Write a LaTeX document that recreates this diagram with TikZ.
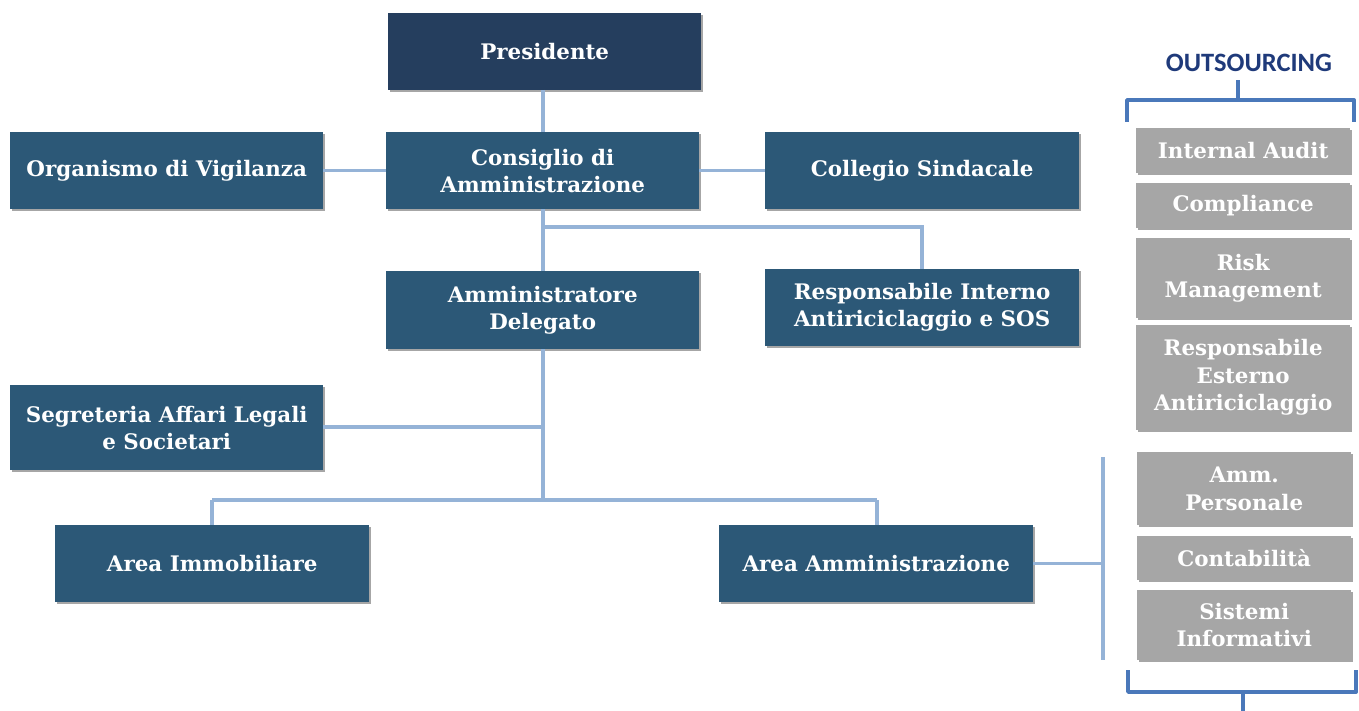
\documentclass[tikz,border=0pt]{standalone}
\usepackage{fontspec}
\setmainfont{DejaVu Serif}
\newfontfamily\outfont{Carlito}
\usetikzlibrary{shadows}
\definecolor{navy}{HTML}{253E5E}
\definecolor{boxblue}{HTML}{2C5877}
\definecolor{boxgray}{HTML}{A6A6A6}
\definecolor{linkblue}{HTML}{95B3D7}
\definecolor{outblue}{HTML}{1F3A7A}
\definecolor{braceblue}{HTML}{4A78BA}
\tikzset{
  x=1pt, y=-1pt,
  box/.style={draw=none, fill=boxblue, text=white, font=\bfseries\fontsize{21.4}{27}\selectfont,
    align=center, inner sep=0pt, anchor=north west,
    drop shadow={shadow xshift=1.5pt, shadow yshift=-2pt, opacity=0.35, fill=black}},
  gbox/.style={box, fill=boxgray, font=\bfseries\fontsize{21.4}{27.5}\selectfont},
  link/.style={draw=linkblue, line width=3.2pt},
  brace/.style={draw=braceblue, line width=3.8pt, line join=round}
}
\begin{document}
\begin{tikzpicture}
\useasboundingbox (0,0) rectangle (1359,711);
% main boxes
\node[box, fill=navy, minimum width=313pt, minimum height=77pt] (pres) at (388,13) {Presidente};
\node[box, minimum width=313pt, minimum height=77pt] (cda) at (386,132) {Consiglio di\\Amministrazione};
\node[box, minimum width=313pt, minimum height=77pt] (odv) at (10,132) {Organismo di Vigilanza};
\node[box, minimum width=314pt, minimum height=77pt] (coll) at (765,132) {Collegio Sindacale};
\node[box, minimum width=313pt, minimum height=78pt] (ad) at (386,271) {Amministratore\\Delegato};
\node[box, minimum width=314pt, minimum height=77pt] (rint) at (765,269) {Responsabile Interno\\Antiriciclaggio e SOS};
\node[box, minimum width=313pt, minimum height=85pt] (seg) at (10,385) {Segreteria Affari Legali\\e Societari};
\node[box, minimum width=314pt, minimum height=77pt] (imm) at (55,525) {Area Immobiliare};
\node[box, minimum width=314pt, minimum height=77pt] (amm) at (719,525) {Area Amministrazione};
% outsourcing boxes
\node[gbox, minimum width=214pt, minimum height=45pt] (ia) at (1136,128) {Internal Audit};
\node[gbox, minimum width=214pt, minimum height=45pt] (comp) at (1136,183) {Compliance};
\node[gbox, minimum width=214pt, minimum height=80pt] (risk) at (1136,238) {Risk\\Management};
\node[gbox, minimum width=214pt, minimum height=105pt] (rest) at (1136,325) {Responsabile\\Esterno\\Antiriciclaggio};
\node[gbox, minimum width=214pt, minimum height=73pt] (pers) at (1137,452) {Amm.\\Personale};
\node[gbox, minimum width=214pt, minimum height=44pt] (cont) at (1137,536) {Contabilità};
\node[gbox, minimum width=214pt, minimum height=70pt] (sist) at (1137,590) {Sistemi\\Informativi};
% outsourcing title
\node[text=outblue, font=\outfont\bfseries\fontsize{26.5}{30}\selectfont] (out) at (1249,63) {OUTSOURCING};
% braces
\draw[brace] (1127,122) -- (1127,100) -- (1238,100) -- (1238,80);
\draw[brace] (1238,100) -- (1354,100) -- (1354,122);
\draw[brace] (1128,670) -- (1128,692) -- (1243,692) -- (1243,711);
\draw[brace] (1243,692) -- (1356,692) -- (1356,670);
% connectors
\coordinate (j0) at (543,90);
\coordinate (j1) at (543,227);
\coordinate (j2) at (922,227);
\coordinate (j3) at (543,427);
\coordinate (j4) at (543,500);
\coordinate (j5) at (212,500);
\coordinate (j6) at (877,500);
\coordinate (b2) at (1103,457);
\coordinate (b3) at (1103,660);
\draw[link] (j0) -- (j0 |- cda.north);
\draw[link] (odv.east) -- (cda.west);
\draw[link] (cda.east) -- (coll.west);
\draw[link] (j1 |- cda.south) -- (j1 |- ad.north);
\draw[link] (j1) -- (j2) -- (rint.north -| j2);
\draw[link] (j1 |- ad.south) -- (j4);
\draw[link] (seg.east |- j3) -- (j3);
\draw[link] (j5) -- (j6);
\draw[link] (j5) -- (imm.north -| j5);
\draw[link] (j6) -- (amm.north -| j6);
\draw[link] (amm.east) -- (amm.east -| b2);
\draw[link] (b2) -- (b3);
\end{tikzpicture}
\end{document}
